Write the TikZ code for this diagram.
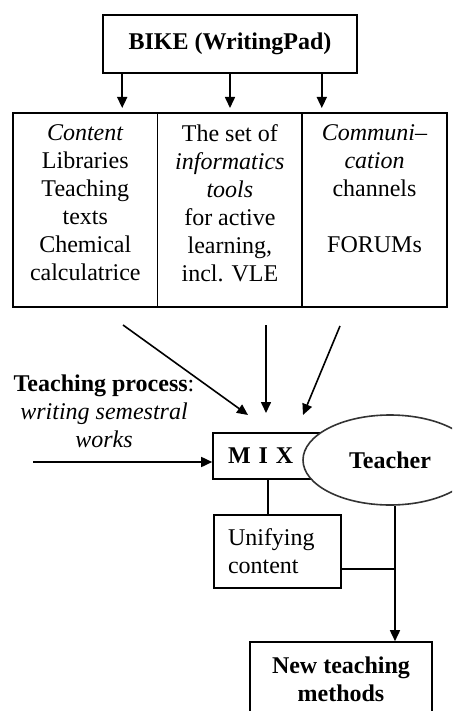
\documentclass[tikz,border=0pt]{standalone}
\usepackage{fontspec}
\setmainfont{Liberation Serif}
\usetikzlibrary{shapes.geometric, arrows.meta, positioning}
\tikzstyle{arrow} = [
  -{Triangle[width=5pt,length=5.5pt]}, line width=0.8pt
]
\newcommand{\coltext}[1]{\parbox[c][97pt][t]{72.3pt}{\centering\vspace*{6pt}#1}}

\begin{document}
\begin{tikzpicture}[
  x=0.5pt, y=-0.5pt,
  every node/.style={font=\fontsize{12}{14}\selectfont},
  box/.style={rectangle, draw, line width=0.8pt, align=center},
  column/.style={rectangle, draw, line width=0.8pt, inner sep=0pt, outer sep=0pt},
  link/.style={line width=0.8pt},
]
  \clip (0,0) rectangle (452,711);
  \node[box, font=\fontsize{12}{14}\selectfont\bfseries,
        minimum width=127pt, minimum height=29pt]
    (bike) at (230,44) {BIKE (WritingPad)};
  \node[column] (content) at (85.3,210)
    {\coltext{\textit{Content}\\ Libraries\\ Teaching\\ texts\\ Chemical\\ calculatrice}};
  \node[column, right=0pt of content] (tools)
    {\coltext{The set of\\ \textit{informatics}\\ \textit{tools}\\ for active\\ learning,\\ incl. VLE}};
  \node[column, right=0pt of tools] (channels)
    {\coltext{\textit{Communi--}\\ \textit{cation}\\ channels\\[14pt] FORUMs}};
  \node[box, minimum width=55pt, minimum height=23pt, text width=40pt, align=left]
    (mix) at (268,456) {\textbf{M I X}};
  \node[ellipse, draw=black!80, fill=white, line width=0.8pt,
        minimum width=87pt, minimum height=45pt, inner sep=0pt]
    (teacher) at (390,460) {\textbf{Teacher}};
  \node[align=center] (tproc) at (104,411)
    {\textbf{Teaching process}:\\ \textit{writing semestral}\\ \textit{works}};
  \node[box, minimum width=63.5pt, minimum height=36.5pt, text width=49.5pt, align=left]
    (unify) at (277.5,551.5) {Unifying\\ content};
  \node[box, font=\fontsize{12}{14}\selectfont\bfseries,
        minimum width=91pt, minimum height=37pt]
    (newm) at (341,679) {New teaching\\ methods};

  \coordinate (from1) at (123,325);
  \coordinate (to1)   at (248,415);
  \coordinate (from2) at (266,325);
  \coordinate (to2)   at (266,413);
  \coordinate (from3) at (340,326);
  \coordinate (to3)   at (303,415);
  \coordinate (tpin)  at (33,462);
  \coordinate (tdown) at ([xshift=2.5pt]teacher.south);

  \draw[arrow, shorten >=2.5pt] ([xshift=10pt]bike.south west) -- ([xshift=10pt]bike.south west |- content.north);
  \draw[arrow, shorten >=2.5pt] (bike.south) -- (bike.south |- tools.north);
  \draw[arrow, shorten >=2.5pt] ([xshift=-18pt]bike.south east) -- ([xshift=-18pt]bike.south east |- channels.north);
  \draw[arrow] (from1) -- (to1);
  \draw[arrow] (from2) -- (to2);
  \draw[arrow] (from3) -- (to3);
  \draw[arrow] (tpin) -- (tpin -| mix.west);
  \draw[link]  (mix.south) -- (mix.south |- unify.north);
  \draw[arrow] (tdown) -- (tdown |- newm.north);
  \draw[link]  ([yshift=-8.75pt]unify.east) -- ([yshift=-8.75pt]unify.east -| tdown);
\end{tikzpicture}
\end{document}
